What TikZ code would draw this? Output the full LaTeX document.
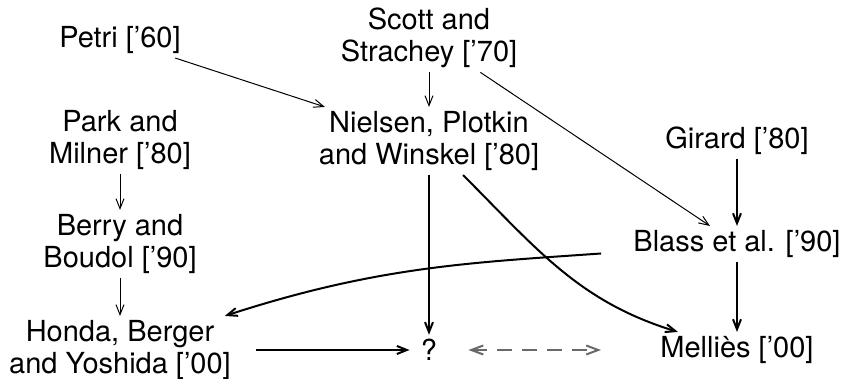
\documentclass[tikz,border=0pt]{standalone}
\usepackage{fontspec}
\setmainfont{TeX Gyre Heros}
\usetikzlibrary{arrows.meta}
\definecolor{dashgray}{RGB}{105,105,105}

\begin{document}
\begin{tikzpicture}[x=0.5pt, y=0.5pt,
    author/.style={align=center, inner sep=2pt, font=\fontsize{14.5}{16}\selectfont},
    thin arrow/.style={-{Straight Barb[length=5pt,width=4pt]}, line width=0.5pt},
    thick arrow/.style={-{Straight Barb[length=5pt,width=4pt]}, line width=1pt},
    maybe arrow/.style={{Straight Barb[length=6pt,width=4.5pt]}-{Straight Barb[length=6pt,width=4.5pt]}, line width=1pt, dashgray, dash pattern=on 7.5pt off 5pt}]
    \useasboundingbox (0,0) rectangle (843,379);

    % Top row
    \node[author] (petri) at (120,339) {Petri ['60]};
    \node[author] (scott) at (429,341) {Scott and\\Strachey ['70]};

    % Second row
    \node[author] (park) at (120,239) {Park and\\Milner ['80]};
    \node[author] (niel) at (429,238) {Nielsen, Plotkin\\and Winskel ['80]};
    \node[author] (girard) at (737,238) {Girard ['80]};

    % Third row
    \node[author] (berry) at (120,135) {Berry and\\Boudol ['90]};
    \node[author] (blass) at (737,135) {Blass et al. ['90]};

    % Bottom row
    \node[author] (honda) at (120,29) {Honda, Berger\\and Yoshida ['00]};
    \node[author] (what) at (429,29) {?};
    \node[author] (mellies) at (737,29) {Melliès ['00]};

    % Influences
    \draw[thin arrow] (petri) -- (niel);
    \draw[thin arrow] (scott) -- (niel);
    \draw[thin arrow] (scott) -- (blass);
    \draw[thin arrow] (park) -- (berry);
    \draw[thin arrow] (berry) -- (honda);

    \draw[thick arrow] (girard) -- (blass);
    \draw[thick arrow] (blass) -- (mellies);
    \draw[thick arrow] (niel) -- (what);
    \draw[thick arrow] (niel) to[out=-45, in=163] (mellies);
    \draw[thick arrow, shorten <=14pt] (blass) to[out=184, in=18] (honda);
    \draw[thick arrow, shorten <=10.5pt, shorten >=3.5pt] (honda) -- (what);

    % Open question
    \draw[maybe arrow, shorten <=13.5pt, shorten >=27.5pt] (what) -- (mellies);
\end{tikzpicture}
\end{document}
